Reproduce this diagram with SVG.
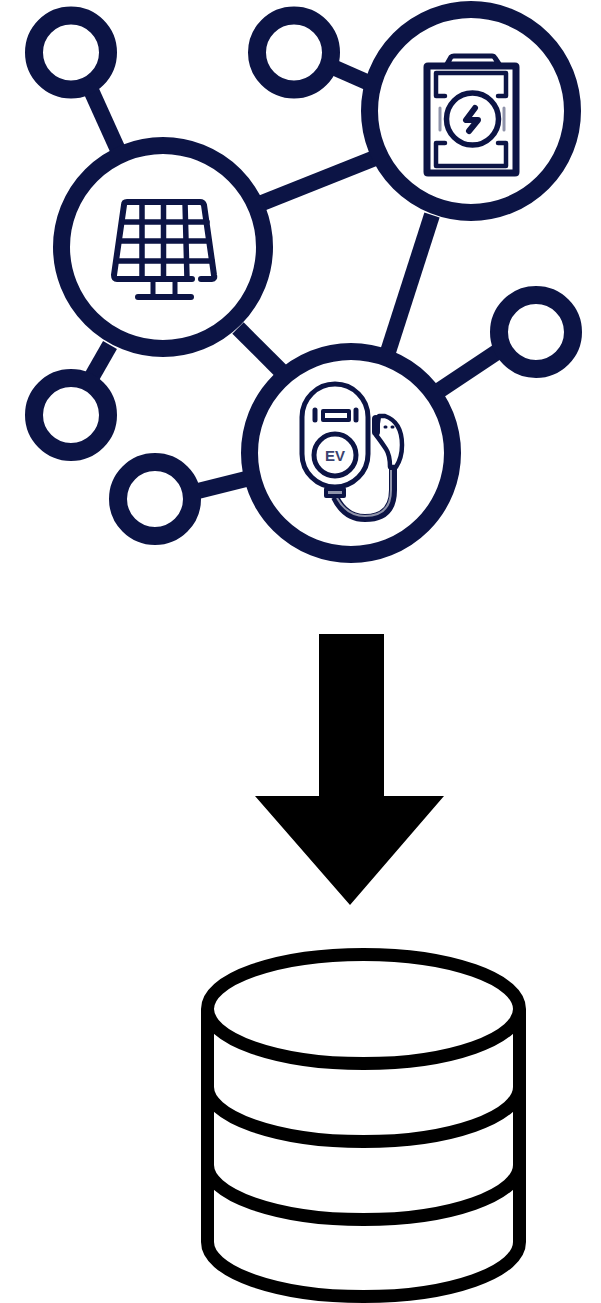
<svg xmlns="http://www.w3.org/2000/svg" width="601" height="1303" viewBox="0 0 601 1303">
<style>
.hub{fill:#fff;stroke:#0c1445;stroke-width:17}
.sat{fill:#fff;stroke:#0c1445;stroke-width:18}
.link{stroke:#0c1445;stroke-width:16;fill:none}
.ic{fill:none;stroke:#0c1445;stroke-linecap:round;stroke-linejoin:round}
.cyl{fill:none;stroke:#000;stroke-width:13}
</style>
<rect width="601" height="1303" fill="#fff"/>
<g id="connectors">
<path class="link" d="M90 88L118 150"/>
<path class="link" d="M335 68L385 90"/>
<path class="link" d="M262 203L375 158"/>
<path class="link" d="M432 215L387 355"/>
<path class="link" d="M238 328L282 372"/>
<path class="link" d="M110 345L90 380"/>
<path class="link" d="M198 491L250 478"/>
<path class="link" d="M440 390L500 350"/>
</g>
<g id="sat-top-left"><circle class="sat" cx="71" cy="52.500" r="37"/></g>
<g id="sat-top-mid"><circle class="sat" cx="294" cy="52.500" r="37"/></g>
<g id="sat-right"><circle class="sat" cx="536" cy="332" r="37"/></g>
<g id="sat-left"><circle class="sat" cx="71" cy="415" r="37"/></g>
<g id="sat-bottom"><circle class="sat" cx="155" cy="499" r="37"/></g>
<g id="solar">
<circle class="hub" cx="163" cy="247" r="101.500"/>
<g class="ic" stroke-width="6">
<path d="M201 279H212Q215 279 214 275L204 205Q203 202 200 202H127Q124 202 124 205L114 275Q114 279 117 279H192"/>
<path stroke-width="5.500" d="M122 222H207M120 241H209M117 261H212M142 202V279M163.500 202V279M185 202L187 279"/>
<path stroke-width="5" d="M153 279V297M175 279V297"/>
<path stroke-width="6" d="M138 297H191"/>
</g>
</g>
<g id="battery">
<circle class="hub" cx="471" cy="111" r="101.500"/>
<g class="ic">
<path stroke-width="7" d="M428 66H515Q516 66 516 67V172Q516 173 515 173H428Q427 173 427 172V67Q427 66 428 66Z"/>
<path stroke-width="5" fill="#fff" d="M447 64L451 57Q452 56 454 56H492Q494 56 495 58L499 64Z"/>
<path stroke-width="4.500" d="M436 73V96H445M506 73V96H498M436 166V143H445M506 166V143H498M436 73H506M436 166H506"/>
<path stroke="#8f93aa" stroke-width="3" d="M440 108V130M504 108V130"/>
<circle stroke-width="5.500" fill="#fff" cx="472.500" cy="119" r="26"/>
<path stroke-width="6" d="M475 108L466 120H478L469 131"/>
</g>
</g>
<g id="charger">
<circle class="hub" cx="351" cy="453" r="101.500"/>
<g class="ic">
<path stroke-width="8" stroke-linecap="butt" d="M335 497Q345 518 365 518Q393 518 393 490V468"/>
<path stroke="#8f93aa" stroke-width="2" stroke-linecap="butt" d="M337 498Q347 516 365 516Q391 516 391 490V470"/>
<rect stroke-width="5" fill="#fff" x="302" y="384" width="66" height="103" rx="33"/>
<path stroke-width="5" d="M315 410V420M356 410V420"/>
<rect stroke-width="4" x="323" y="411" width="26" height="9"/>
<circle stroke-width="5" cx="335" cy="455" r="21"/>
<text x="335" y="461" font-family="Liberation Sans, sans-serif" font-size="15" font-weight="700" fill="#3a4270" stroke="none" text-anchor="middle">EV</text>
<path stroke-width="4" fill="#8f93aa" d="M326 489H344V496H326Z"/>
<path fill="#fff" stroke-width="4.500" d="M379 416H385Q402 422 402 445Q402 458 396 467H390Q390 455 386 449Q380 440 376 435Z"/>
<path stroke-width="8" d="M376 419V432"/>
<path stroke-width="3" d="M385 427H386M392 427H393"/>
</g>
</g>
<g id="arrow"><path d="M319 634H384V796H444L350 905L255 796H319Z" fill="#000"/></g>
<g id="database">
<ellipse class="cyl" cx="363.500" cy="1009" rx="156" ry="54.500"/>
<path class="cyl" d="M207.500 1009V1242A156 54.500 0 0 0 519.500 1242V1009"/>
<path class="cyl" d="M207.500 1087A156 54.500 0 0 0 519.500 1087"/>
<path class="cyl" d="M207.500 1165A156 54.500 0 0 0 519.500 1165"/>
</g>
</svg>
